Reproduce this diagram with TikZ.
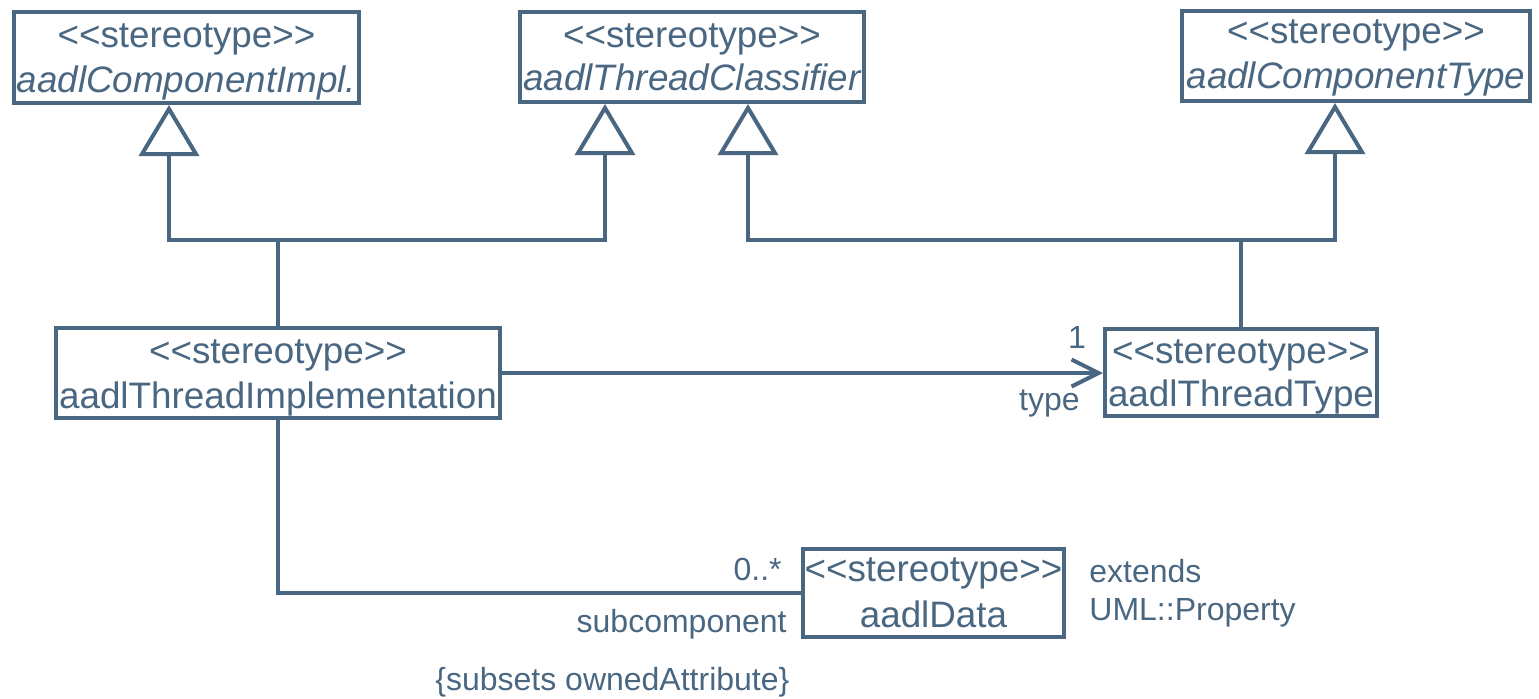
\documentclass[tikz,border=0pt]{standalone}
\usepackage{fontspec}
\setmainfont{Liberation Sans}
\usetikzlibrary{arrows.meta,fit,calc}
\definecolor{uml}{RGB}{74,103,130}
% stereotype marker (kern stops the << >> ligature)
\newcommand\stname{<\kern0pt<stereotype>\kern0pt>}

\begin{document}
\begin{tikzpicture}[x=0.5pt,y=-0.5pt,
  cls/.style={draw=uml, line width=2pt, inner sep=0pt, fill=white},
  classtext/.style={text=uml, font=\fontsize{18.4}{22}\selectfont, anchor=base, inner sep=0pt},
  lbl/.style={text=uml, font=\fontsize{16}{19}\selectfont, inner sep=0pt},
  conn/.style={draw=uml, line width=2pt},
  gen/.style={conn, -{Triangle[open,length=25.5pt,width=30pt,fill=white]}},
  nav/.style={conn, -{Straight Barb[length=13.5pt,width=13.5pt]}}]
\useasboundingbox (0,0) rectangle (1539,698);

% classes
\node[cls, fit={(14,12) (359,103)}] (ci) {};
\node[cls, fit={(520,12) (864,102)}] (tc) {};
\node[cls, fit={(1182,11) (1530,101)}] (ct) {};
\node[cls, fit={(56,328) (500,418)}] (impl) {};
\node[cls, fit={(1105,329) (1377,416)}] (type) {};
\node[cls, fit={(803,549) (1064,637)}] (data) {};

% class texts
\node[classtext] (ciS) at (186.5,47) {\stname};
\node[classtext] (ciN) at (186.5,92) {\itshape aadlComponentImpl.};
\node[classtext] (tcS) at (692,47) {\stname};
\node[classtext] (tcN) at (692,90) {\itshape aadlThreadClassifier};
\node[classtext] (ctS) at (1356,43) {\stname};
\node[classtext] (ctN) at (1356,88) {\itshape aadlComponentType};
\node[classtext] (implS) at (278,363) {\stname};
\node[classtext] (implN) at (278,408) {aadlThreadImplementation};
\node[classtext] (typeS) at (1241,363) {\stname};
\node[classtext] (typeN) at (1241,406) {aadlThreadType};
\node[classtext] (dataS) at (933.5,581) {\stname};
\node[classtext] (dataN) at (933.5,627) {aadlData};

% generalization attach points and junctions
\coordinate (ciB) at ($(ci.south west)+(157,0)$);
\coordinate (tcB1) at ($(tc.south west)+(87,0)$);
\coordinate (tcB2) at ($(tc.south west)+(230,0)$);
\coordinate (ctB) at ($(ct.south west)+(155,0)$);
\coordinate (j1) at (278,240);
\coordinate (j2) at (1241,240);

\draw[conn] (impl.north) -- (j1);
\draw[gen] (j1) -| (ciB);
\draw[gen] (j1) -| (tcB1);
\draw[conn] (type.north) -- (j2);
\draw[gen] (j2) -| (tcB2);
\draw[gen] (j2) -| (ctB);

% associations
\draw[nav] (impl.east) -- (impl.east -| type.west);
\draw[conn] (impl.south) |- (data.west);

% association end labels
\node[lbl, anchor=base] (one) at (1077,348) {1};
\node[lbl, anchor=base east] (typeR) at (1080,410) {type};
\node[lbl, anchor=base east] (mult) at (782,580) {0..*};
\node[lbl, anchor=base east] (subc) at (787,632) {subcomponent};
\node[lbl, anchor=base west] (subs) at (435,690) {\{subsets ownedAttribute\}};
\node[lbl, anchor=base west] (ext) at (1089,582) {extends};
\node[lbl, anchor=base west] (prop) at (1089,620) {UML::Property};
\end{tikzpicture}
\end{document}
